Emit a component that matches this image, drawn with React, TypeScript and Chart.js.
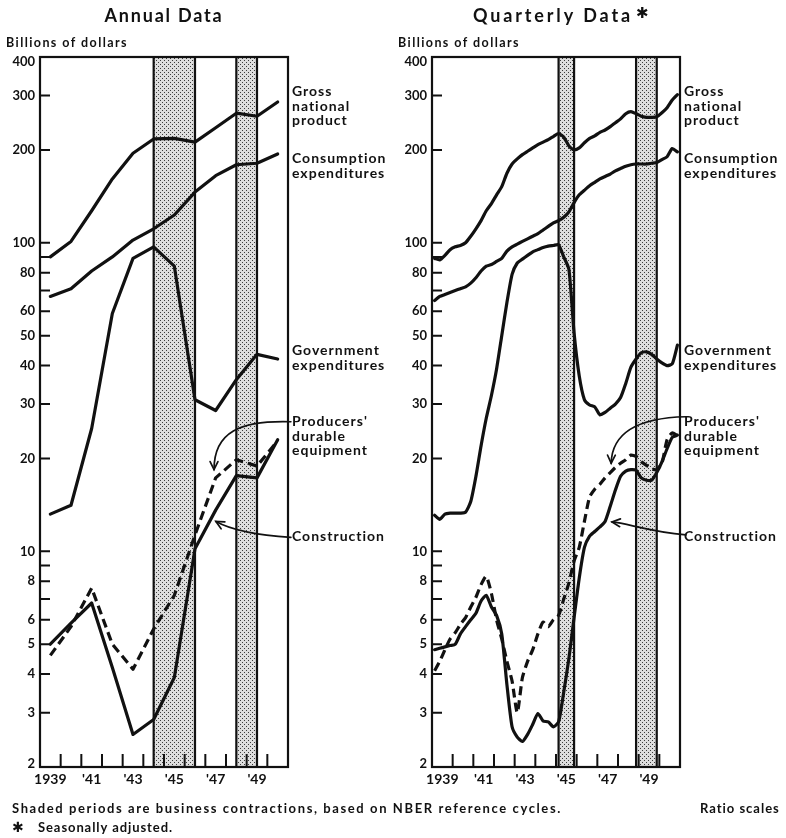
import React, { useEffect, useRef } from "react";
import { Chart, registerables } from "chart.js";

Chart.register(...registerables);

const FONT = "Lato, 'DejaVu Sans', sans-serif";

// ---------- categories ----------
const annualYears = [1939, 1940, 1941, 1942, 1943, 1944, 1945, 1946, 1947, 1948, 1949, 1950];
const quarterNames = ["Q1", "Q2", "Q3", "Q4"];
const quarterLabels = annualYears.flatMap((y) => quarterNames.map((q) => `${y} ${q}`));

// ---------- annual data (billions of dollars) ----------
const annualGNP = [90, 101, 127, 161, 195, 217, 218, 212, 236, 263, 257, 286];
const annualConsumption = [67, 71, 81, 90, 102, 111, 123, 146, 165, 179, 181, 194];
const annualGovernment = [13.2, 14.1, 25, 59, 89, 97, 84, 31, 28.6, 36, 43.5, 42];
const annualEquipment = [4.6, 5.7, 7.6, 5.0, 4.15, 5.6, 7.2, 11.3, 17.3, 19.8, 18.9, 22.8];
const annualConstruction = [5.0, 5.85, 6.8, 4.2, 2.55, 2.85, 3.9, 10.2, 13.6, 17.6, 17.3, 23];

// ---------- quarterly data, seasonally adjusted (1939 Q1 - 1950 Q4) ----------
const quarterlyGNP = [
  89, 88, 91, 95, 97, 98, 100, 105, 111, 118, 127, 134,
  143, 152, 168, 180, 187, 193, 198, 203, 208, 212, 216, 221,
  226, 220, 206, 200, 203, 211, 218, 222, 228, 232, 238, 245,
  252, 262, 266, 262, 257, 255, 255, 256, 264, 274, 290, 302,
];
const quarterlyConsumption = [
  65, 67, 68, 69, 70, 71, 72, 74, 77, 81, 84, 85,
  87, 89, 94, 97, 99, 101, 103, 105, 107, 110, 113, 116,
  118, 121, 126, 135, 143, 148, 153, 157, 161, 164, 167, 171,
  174, 177, 179, 180, 180, 180, 181, 182, 186, 190, 202, 197,
];
const quarterlyGovernment = [
  13.1, 12.7, 13.2, 13.3, 13.3, 13.3, 13.4, 14.5, 17.5, 22, 27, 32,
  39, 50, 64, 79, 86, 88.5, 91, 93.5, 95, 96.5, 97.5, 98,
  98.5, 90, 82, 51, 37, 31, 29.8, 29.4, 27.7, 28.2, 29.1, 30,
  31.5, 35, 39.5, 42, 44, 44.3, 43.5, 42, 40.8, 40, 40.5, 46.6,
];
const quarterlyEquipment = [
  4.1, 4.4, 4.8, 5.2, 5.45, 5.8, 6.1, 6.6, 7.1, 7.8, 8.3, 7.3,
  6.0, 5.2, 4.4, 3.8, 3.0, 3.9, 4.4, 4.8, 5.4, 5.9, 5.7, 6.0,
  6.2, 7.0, 7.9, 9.3, 10.3, 12.5, 15.0, 15.9, 16.5, 17.3, 18.0, 18.7,
  19.3, 19.8, 20.5, 20.3, 19.5, 19.0, 18.5, 18.4, 19.3, 23.0, 24.2, 23.7,
];
const quarterlyConstruction = [
  4.8, 4.85, 4.9, 4.95, 5.0, 5.4, 5.7, 6.0, 6.3, 6.9, 7.2, 6.6,
  6.2, 5.4, 3.7, 2.7, 2.5, 2.42, 2.55, 2.75, 2.98, 2.82, 2.8, 2.7,
  2.8, 3.5, 4.5, 6.1, 8.2, 10.3, 11.2, 11.6, 12.0, 12.5, 14.0, 15.8,
  17.5, 18.2, 18.4, 18.3, 17.3, 17.0, 17.0, 18.0, 19.5, 21.5, 23.4, 23.8,
];

// ---------- axes ----------
const yTickValues = [2, 3, 4, 5, 6, 7, 8, 9, 10, 20, 30, 40, 50, 60, 70, 80, 90, 100, 200, 300, 400];
const yTickLabels = ["2", "3", "4", "5", "6", "", "8", "", "10", "20", "30", "40", "50", "60", "", "80", "", "100", "200", "300", "400"];
const xTickLabels = ["1939", "", "'41", "", "'43", "", "'45", "", "'47", "", "'49", ""];

// ---------- business contractions (peak, trough) ----------
const annualContractions = [[1944, 1946], [1948, 1949]];
const quarterlyContractions = [["1945 Q1", "1945 Q4"], ["1948 Q4", "1949 Q4"]];

// ---------- series names (right-hand labels) ----------
const seriesNameLines = [
  ["Gross", "national", "product"],
  ["Consumption", "expenditures"],
  ["Government", "expenditures"],
  ["Producers'", "durable", "equipment"],
  ["Construction"],
];

// layout of labels (pixel baselines) — styling, not data
const labelBaselines = [
  [96, 110.5, 124.5],
  [163, 177.5],
  [355, 370],
  [426, 441, 455],
  [541],
];

// annotation arrows in (year, value) space: start, ctrl1, ctrl2, tip
const annualArrows: [number, number][][] = [
  [[1951.14, 26.3], [1948.68, 26.6], [1947.42, 24.4], [1947.42, 18.4]],
  [[1951.14, 11.1], [1949.4, 11.3], [1948.29, 11.7], [1947.51, 12.5]],
];
const quarterlyArrows: [number, number][][] = [
  [[1951.29, 27.3], [1949.07, 27.1], [1947.71, 24.4], [1947.67, 19.3]],
  [[1951.29, 11.3], [1949.55, 11.56], [1948.49, 12.3], [1947.71, 12.45]],
];

const annualX = annualYears.map((y) => y + 0.5);
const quarterPos = (label: string) => {
  const [y, q] = label.split(" ");
  return Number(y) + (Number(q.slice(1)) - 0.5) / 4;
};
const quarterlyX = quarterLabels.map(quarterPos);

const toPoints = (xs: number[], vs: number[]) => vs.map((v, i) => ({ x: xs[i], y: v }));

function lineDataset(xs: number[], vs: number[], dashed: boolean, tension: number) {
  return {
    data: toPoints(xs, vs),
    borderColor: "#111",
    borderWidth: 3.2,
    borderDash: dashed ? [9, 5] : [],
    borderCapStyle: dashed ? "butt" : "round",
    borderJoinStyle: "round",
    pointRadius: 0,
    fill: false,
    tension,
  } as any;
}

function fitText(ctx: any, text: string, x: number, y: number, width: number | null, align: string = "left") {
  ctx.textAlign = align;
  if (width && "letterSpacing" in ctx) {
    ctx.letterSpacing = "0px";
    const w = ctx.measureText(text).width;
    const ls = Math.max(-0.5, Math.min(4, (width - w) / Math.max(1, text.length)));
    ctx.letterSpacing = ls.toFixed(2) + "px";
  }
  ctx.fillText(text, x, y);
  if ("letterSpacing" in ctx) ctx.letterSpacing = "0px";
}

function makePattern(ctx: CanvasRenderingContext2D) {
  const c = document.createElement("canvas");
  c.width = 4;
  c.height = 4;
  const g = c.getContext("2d")!;
  g.fillStyle = "#dedede";
  g.fillRect(0, 0, 4, 4);
  g.fillStyle = "#3c3c3c";
  g.fillRect(0, 0, 1, 1);
  g.fillRect(2, 2, 1, 1);
  return ctx.createPattern(c, "repeat");
}

interface PanelCfg {
  title: string;
  star: boolean;
  shades: number[][];
  arrows: [number, number][][];
  footer: boolean;
}

function decorPlugin(p: PanelCfg) {
  return {
    id: "panelDecor",
    beforeDatasetsDraw(chart: any) {
      const { ctx, chartArea: a } = chart;
      const xs = chart.scales.x;
      ctx.save();
      const pat = makePattern(ctx);
      for (const [s, e] of p.shades) {
        const x0 = xs.getPixelForValue(s);
        const x1 = xs.getPixelForValue(e);
        ctx.fillStyle = pat || "#c8c8c8";
        ctx.fillRect(x0, a.top, x1 - x0, a.bottom - a.top);
        ctx.strokeStyle = "#111";
        ctx.lineWidth = 2.2;
        ctx.beginPath();
        ctx.moveTo(x0, a.top);
        ctx.lineTo(x0, a.bottom);
        ctx.moveTo(x1, a.top);
        ctx.lineTo(x1, a.bottom);
        ctx.stroke();
      }
      ctx.restore();
    },
    afterDatasetsDraw(chart: any) {
      const { ctx, chartArea: a } = chart;
      const xs = chart.scales.x;
      const ys = chart.scales.y;
      ctx.save();
      ctx.strokeStyle = "#111";
      ctx.fillStyle = "#111";
      // frame
      ctx.lineWidth = 2.2;
      ctx.strokeRect(a.left, a.top, a.right - a.left, a.bottom - a.top);
      // y ticks (inside)
      ctx.lineWidth = 2;
      ctx.beginPath();
      yTickValues.forEach((v) => {
        if (v <= ys.min || v >= ys.max) return;
        const y = ys.getPixelForValue(v);
        ctx.moveTo(a.left, y);
        ctx.lineTo(a.left + 10, y);
      });
      // x ticks (inside, at year boundaries)
      annualYears.slice(1).forEach((yr) => {
        const x = xs.getPixelForValue(yr);
        ctx.moveTo(x, a.bottom);
        ctx.lineTo(x, a.bottom - 13);
      });
      ctx.stroke();

      // y labels
      ctx.font = `bold 13px ${FONT}`;
      ctx.textAlign = "right";
      yTickValues.forEach((v, i) => {
        const lab = yTickLabels[i];
        if (!lab) return;
        const y = ys.getPixelForValue(v);
        if (v === ys.max) {
          ctx.textBaseline = "alphabetic";
          ctx.fillText(lab, a.left - 5, a.top + 9);
        } else if (v === ys.min) {
          ctx.textBaseline = "alphabetic";
          ctx.fillText(lab, a.left - 5, a.bottom + 0.5);
        } else {
          ctx.textBaseline = "middle";
          ctx.fillText(lab, a.left - 5, y);
        }
      });

      // x labels
      ctx.font = `bold 14px ${FONT}`;
      ctx.textBaseline = "alphabetic";
      ctx.textAlign = "center";
      annualYears.forEach((yr, i) => {
        const lab = xTickLabels[i];
        if (!lab) return;
        ctx.fillText(lab, xs.getPixelForValue(yr + 0.5), a.bottom + 16.5);
      });

      // title
      const cx = (a.left + a.right) / 2;
      ctx.font = `bold 18px ${FONT}`;
      if (p.star) {
        fitText(ctx, p.title, cx - 3, 22, 160, "center");
        ctx.font = `bold 15px 'DejaVu Sans', sans-serif`;
        ctx.textAlign = "left";
        ctx.fillText("\u2731", cx + 80, 18);
      } else {
        fitText(ctx, p.title, cx, 22, 119, "center");
      }

      // unit label
      ctx.font = `bold 12.5px ${FONT}`;
      fitText(ctx, "Billions of dollars", a.left - 34, 47, 122, "left");

      // series names
      ctx.font = `bold 14px ${FONT}`;
      if ("letterSpacing" in ctx) (ctx as any).letterSpacing = "1px";
      ctx.textAlign = "left";
      seriesNameLines.forEach((lines, si) => {
        lines.forEach((t, li) => ctx.fillText(t, a.right + 4, labelBaselines[si][li]));
      });
      if ("letterSpacing" in ctx) (ctx as any).letterSpacing = "0px";

      // arrows
      ctx.lineWidth = 1.7;
      ctx.lineCap = "round";
      p.arrows.forEach((pts) => {
        const q = pts.map(([t, v]) => [xs.getPixelForValue(t), ys.getPixelForValue(v)]);
        ctx.beginPath();
        ctx.moveTo(q[0][0], q[0][1]);
        ctx.bezierCurveTo(q[1][0], q[1][1], q[2][0], q[2][1], q[3][0], q[3][1]);
        ctx.stroke();
        const ang = Math.atan2(q[3][1] - q[2][1], q[3][0] - q[2][0]);
        const L = 9;
        ctx.beginPath();
        ctx.moveTo(q[3][0] - L * Math.cos(ang - 0.45), q[3][1] - L * Math.sin(ang - 0.45));
        ctx.lineTo(q[3][0], q[3][1]);
        ctx.lineTo(q[3][0] - L * Math.cos(ang + 0.45), q[3][1] - L * Math.sin(ang + 0.45));
        ctx.stroke();
      });

      // footer
      if (p.footer) {
        ctx.font = `bold 13px ${FONT}`;
        ctx.textBaseline = "alphabetic";
        fitText(ctx, "Shaded periods are business contractions, based on NBER reference cycles.", 12, 813, 550, "left");
        fitText(ctx, "Ratio scales", 700, 813, 80, "left");
        fitText(ctx, "Seasonally adjusted.", 38, 832, 135, "left");
        ctx.font = `bold 14px 'DejaVu Sans', sans-serif`;
        ctx.textAlign = "left";
        ctx.fillText("\u2731", 12, 832);
      }
      ctx.restore();
    },
  };
}

function buildChart(
  canvas: HTMLCanvasElement,
  xs: number[],
  series: number[][],
  padding: { left: number; right: number; top: number; bottom: number },
  panel: PanelCfg,
  tension: number
) {
  const datasets = series.map((vs, i) => lineDataset(xs, vs, i === 3, tension));
  return new Chart(canvas, {
    type: "line",
    data: { datasets },
    options: {
      animation: false,
      responsive: false,
      events: [],
      layout: { padding },
      scales: {
        x: { type: "linear", min: 1939, max: 1951, display: false },
        y: { type: "logarithmic", min: 2, max: 400, display: false },
      },
      plugins: { legend: { display: false }, tooltip: { enabled: false } },
    } as any,
    plugins: [decorPlugin(panel)],
  });
}

export default function App() {
  const leftRef = useRef<HTMLCanvasElement>(null);
  const rightRef = useRef<HTMLCanvasElement>(null);

  useEffect(() => {
    const annualShades = annualContractions.map(([p, t]) => [p + 0.5, t + 0.5]);
    const quarterlyShades = quarterlyContractions.map(([p, t]) => [quarterPos(p), quarterPos(t)]);
    const left = buildChart(
      leftRef.current!,
      annualX,
      [annualGNP, annualConsumption, annualGovernment, annualEquipment, annualConstruction],
      { left: 40, right: 786 - 288, top: 57, bottom: 838 - 767 },
      { title: "Annual Data", star: false, shades: annualShades, arrows: annualArrows, footer: true },
      0
    );
    const right = buildChart(
      rightRef.current!,
      quarterlyX,
      [quarterlyGNP, quarterlyConsumption, quarterlyGovernment, quarterlyEquipment, quarterlyConstruction],
      { left: 432, right: 786 - 680, top: 57, bottom: 838 - 767 },
      { title: "Quarterly Data", star: true, shades: quarterlyShades, arrows: quarterlyArrows, footer: false },
      0.2
    );
    return () => {
      left.destroy();
      right.destroy();
    };
  }, []);

  return (
    <div style={{ position: "absolute", left: 0, top: 0, width: 786, height: 838, background: "#fff" }}>
      <canvas ref={leftRef} width={786} height={838} style={{ position: "absolute", left: 0, top: 0 }} />
      <canvas ref={rightRef} width={786} height={838} style={{ position: "absolute", left: 0, top: 0 }} />
    </div>
  );
}
